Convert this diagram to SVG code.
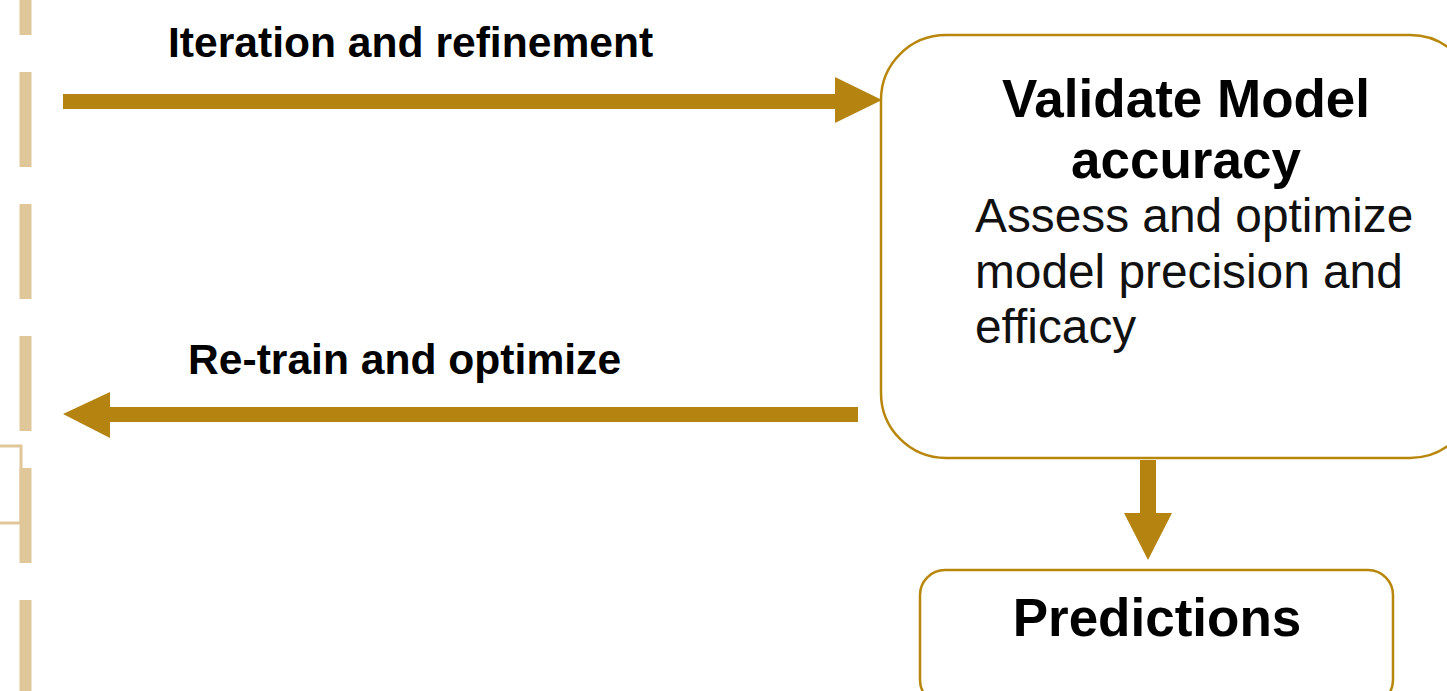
<svg xmlns="http://www.w3.org/2000/svg" width="1447" height="691" viewBox="0 0 1447 691">
<style>
.box{fill:#fff;stroke:#B8860B;stroke-width:2.5}
.arr{fill:#B5830F}
.lbl{font-family:"Liberation Sans",Arial,sans-serif;font-weight:bold;fill:#000}
.body{font-family:"Liberation Sans",Arial,sans-serif;fill:#111}
.tan{stroke:#DFC79A;fill:none}
</style>
<rect width="1447" height="691" fill="#fff"/>
<g id="lane">
<line class="tan" x1="25.5" y1="-60" x2="25.5" y2="700" stroke-width="12" stroke-dasharray="95 37"/>
<polyline class="tan" points="0,446 21,446 21,523 0,523" stroke-width="3"/>
</g>
<g id="connectors">
<rect class="arr" x="63" y="94" width="775" height="15"/>
<polygon class="arr" points="835,77 882,100 835,123"/>
<rect class="arr" x="108" y="407" width="750" height="15"/>
<polygon class="arr" points="110,392 63,414 110,438"/>
<rect class="arr" x="1140" y="460" width="16" height="56"/>
<polygon class="arr" points="1124,513 1172,513 1148,560"/>
<text class="lbl" x="168" y="57" font-size="42.6">Iteration and refinement</text>
<text class="lbl" x="188" y="374" font-size="42.6">Re-train and optimize</text>
</g>
<g id="validate">
<rect class="box" x="881" y="35" width="594" height="423" rx="65"/>
<text class="lbl" x="1186" y="117" font-size="53" text-anchor="middle">Validate Model</text>
<text class="lbl" x="1186" y="178" font-size="53" text-anchor="middle">accuracy</text>
<text class="body" x="975" y="232" font-size="47.8">Assess and optimize</text>
<text class="body" x="975" y="288" font-size="47.8">model precision and</text>
<text class="body" x="975" y="343" font-size="47.8">efficacy</text>
</g>
<g id="predictions">
<rect class="box" x="920" y="570" width="473" height="135" rx="25"/>
<text class="lbl" x="1157" y="636" font-size="53" text-anchor="middle">Predictions</text>
</g>
</svg>
